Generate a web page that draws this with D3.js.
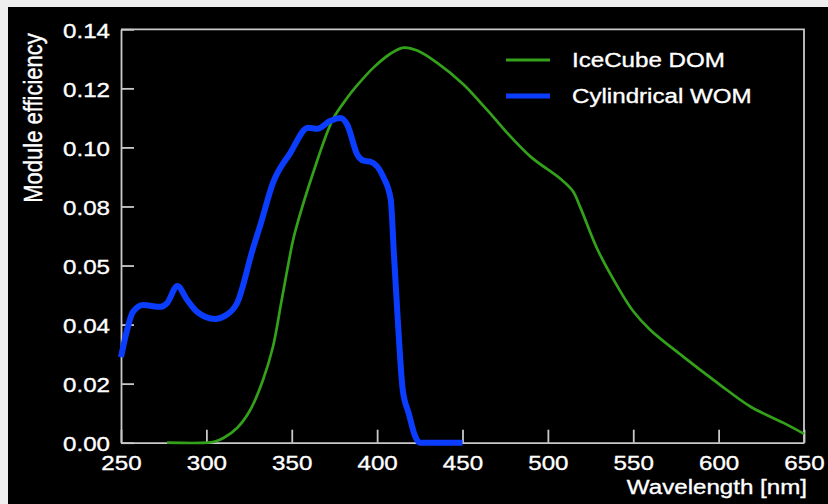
<!DOCTYPE html>
<html>
<head>
<meta charset="utf-8">
<script src="https://cdn.jsdelivr.net/npm/d3@7"></script>
<style>
  html, body { margin: 0; padding: 0; background: #eeeeee; }
  svg { display: block; }
  text { font-family: "Liberation Sans", Arial, Helvetica, sans-serif; fill: #ffffff; stroke: #ffffff; stroke-width: 0.35px; }
</style>
</head>
<body>
<svg id="chart" width="828" height="504"></svg>
<script>
// IceCube DOM module efficiency vs wavelength
const domWavelength = [277, 300, 305, 310, 318, 325.6, 333, 339, 344, 350, 352, 362.6, 374, 382.5, 388, 398, 408, 415.5, 423.5, 435, 450.6, 460.5, 466, 476, 490, 507.5, 514.5, 519, 529, 541, 550, 560, 579.6, 599.5, 619, 638, 650];
const domEfficiency = [0, 0, 0.0004, 0.0016, 0.005, 0.011, 0.021, 0.0325, 0.048, 0.0665, 0.0715, 0.0915, 0.1094, 0.1168, 0.1208, 0.1271, 0.1318, 0.1338, 0.1328, 0.1287, 0.1213, 0.1152, 0.1117, 0.105, 0.0968, 0.0893, 0.0853, 0.0797, 0.0655, 0.0527, 0.0445, 0.0382, 0.029, 0.0202, 0.0121, 0.0067, 0.003];

// Cylindrical WOM module efficiency vs wavelength
const womWavelength = [250, 253.5, 257, 263, 273, 277, 283, 288.7, 294.6, 305, 312, 318, 327.4, 331.5, 339, 349, 359.6, 365, 372.6, 378.4, 382.5, 388.4, 392, 396, 403.6, 408, 409.7, 412, 415, 418.5, 422.4, 425, 450];
const womEfficiency = [0.029, 0.038, 0.0443, 0.0466, 0.046, 0.0473, 0.0531, 0.0484, 0.0443, 0.0419, 0.0433, 0.0473, 0.066, 0.0735, 0.088, 0.098, 0.1067, 0.1063, 0.109, 0.110, 0.1077, 0.0975, 0.0955, 0.0952, 0.090, 0.0823, 0.0653, 0.0426, 0.0179, 0.010, 0.002, 0, 0];

const xTicks = [250, 300, 350, 400, 450, 500, 550, 600, 650];
const yTicks = [0, 0.02, 0.04, 0.06, 0.08, 0.10, 0.12, 0.14];
const yTickLabels = ["0.00", "0.02", "0.04", "0.05", "0.08", "0.10", "0.12", "0.14"];

const seriesNames = ["IceCube DOM", "Cylindrical WOM"];
const seriesColors = ["#34a11a", "#0b3dff"];
const seriesWidths = [2.7, 6];

const svg = d3.select("#chart");
const W = 828, H = 504;
const stretch = 1.15; // horizontal text stretch

// page frame: light margin top/left, black panel
svg.append("rect").attr("x", 0).attr("y", 0).attr("width", W).attr("height", H).attr("fill", "#efefef");
svg.append("rect").attr("x", 8).attr("y", 7).attr("width", W - 8).attr("height", H - 7).attr("fill", "#000000");

const plot = { left: 121, right: 804, top: 29.3, bottom: 442.7 };
const x = d3.scaleLinear().domain([250, 650]).range([plot.left, plot.right]);
const y = d3.scaleLinear().domain([0, 0.14]).range([plot.bottom, plot.top]);

const axisColor = "#c9c9c9";

// top and right frame
svg.append("path")
  .attr("d", `M${plot.left},${plot.top}H${plot.right}V${plot.bottom}`)
  .attr("fill", "none").attr("stroke", axisColor).attr("stroke-width", 1.8);

// y axis
const yAxis = svg.append("g")
  .attr("transform", `translate(${plot.left},0)`)
  .call(d3.axisLeft(y).tickValues(yTicks).tickSizeInner(-13).tickSizeOuter(0).tickPadding(0)
    .tickFormat((d, i) => yTickLabels[i]));
yAxis.select(".domain").attr("stroke", axisColor).attr("stroke-width", 1.8);
yAxis.selectAll(".tick line").attr("stroke", axisColor).attr("stroke-width", 1.8);
yAxis.selectAll(".tick text")
  .attr("x", null).attr("dy", null)
  .attr("transform", "translate(-11,8) scale(" + stretch + ",1)")
  .attr("text-anchor", "end")
  .style("font-size", "21px").style("fill", "#fff");

// x axis
const xAxis = svg.append("g")
  .attr("transform", `translate(0,${plot.bottom})`)
  .call(d3.axisBottom(x).tickValues(xTicks).tickSizeInner(-13).tickSizeOuter(0).tickPadding(0)
    .tickFormat(d3.format("d")));
xAxis.select(".domain").attr("stroke", axisColor).attr("stroke-width", 1.8);
xAxis.selectAll(".tick line").attr("stroke", axisColor).attr("stroke-width", 1.8);
xAxis.selectAll(".tick text")
  .attr("y", null).attr("dy", null)
  .attr("transform", "translate(0,27.5) scale(" + stretch + ",1)")
  .attr("text-anchor", "middle")
  .style("font-size", "21px").style("fill", "#fff");

// axis titles
svg.append("text")
  .attr("transform", `translate(${plot.right + 3},494) scale(${stretch},1)`)
  .attr("text-anchor", "end")
  .style("font-size", "21px")
  .text("Wavelength [nm]");

svg.append("text")
  .attr("transform", `translate(42,118) scale(${stretch},1) rotate(-90)`)
  .attr("text-anchor", "middle")
  .style("font-size", "22px")
  .text("Module efficiency");

// curves: smooth spline for the DOM, shape-preserving for the WOM
const curves = [d3.curveCatmullRom.alpha(0.5), d3.curveMonotoneX];

const series = [
  d3.zip(domWavelength, domEfficiency),
  d3.zip(womWavelength, womEfficiency)
];

series.forEach((pts, i) => {
  const line = d3.line()
    .x(d => x(d[0]))
    .y(d => y(d[1]))
    .curve(curves[i]);
  svg.append("path")
    .datum(pts)
    .attr("d", line)
    .attr("fill", "none")
    .attr("stroke", seriesColors[i])
    .attr("stroke-width", seriesWidths[i])
    .attr("stroke-linejoin", "round")
    .attr("stroke-linecap", "butt");
});

// legend
const legend = svg.append("g");
const legendY = [60, 96];
seriesNames.forEach((name, i) => {
  legend.append("line")
    .attr("x1", 506).attr("x2", 550)
    .attr("y1", legendY[i]).attr("y2", legendY[i])
    .attr("stroke", seriesColors[i])
    .attr("stroke-width", i === 1 ? 5 : 3);
  legend.append("text")
    .attr("transform", `translate(572,${legendY[i] + 6.5}) scale(${stretch},1)`)
    .style("font-size", "21px")
    .text(name);
});
</script>
</body>
</html>
